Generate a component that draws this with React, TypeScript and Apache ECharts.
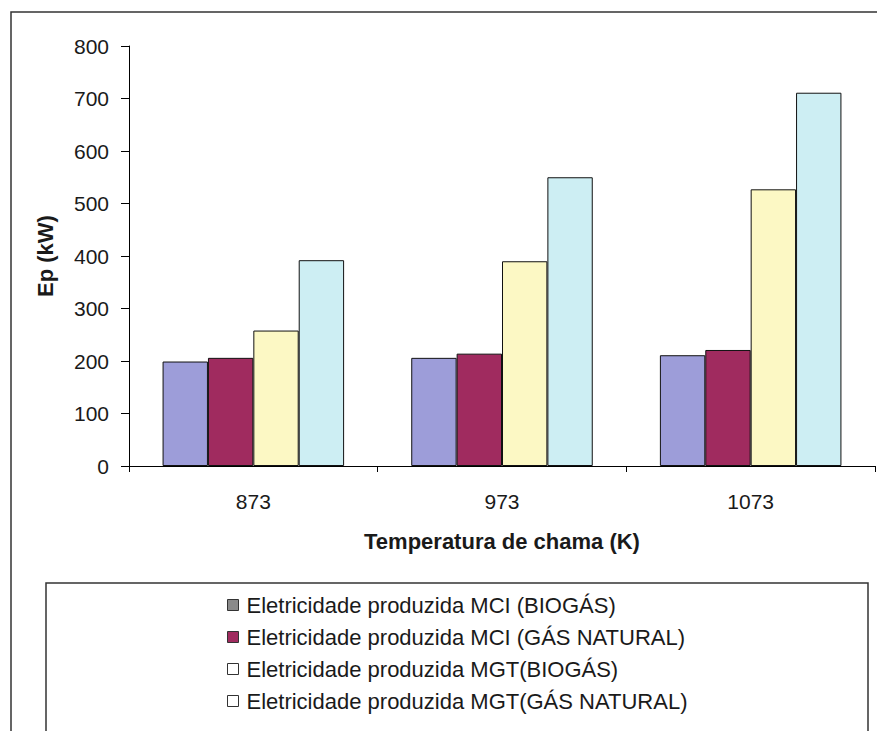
import React, { useEffect, useRef } from "react";
import * as echarts from "echarts";

const categories = ["873", "973", "1073"];
const seriesNames = [
  "Eletricidade produzida MCI (BIOGÁS)",
  "Eletricidade produzida MCI (GÁS NATURAL)",
  "Eletricidade produzida MGT(BIOGÁS)",
  "Eletricidade produzida MGT(GÁS NATURAL)",
];
const mciBiogas = [199, 206, 211];
const mciGasNatural = [206, 214, 221];
const mgtBiogas = [258, 390, 527];
const mgtGasNatural = [392, 550, 711];
const yTicks = [0, 100, 200, 300, 400, 500, 600, 700, 800];

const barColors = ["#9d9dd9", "#a02b5f", "#fcf8c4", "#cdeef3"];
const legendColors = ["#8a8a8a", "#a02b5f", "#ffffff", "#ffffff"];

export default function App() {
  const ref = useRef<HTMLDivElement>(null);
  useEffect(() => {
    document.body.style.margin = "0";
    if (!ref.current) return;
    const chart = echarts.init(ref.current, undefined, { renderer: "svg" });
    const font = "'Liberation Sans', Arial, sans-serif";
    const values = [mciBiogas, mciGasNatural, mgtBiogas, mgtGasNatural];
    chart.setOption({
      animation: false,
      backgroundColor: "#ffffff",
      textStyle: { fontFamily: font },
      graphic: [
        {
          type: "rect",
          shape: { x: 11, y: 12, width: 900, height: 760 },
          style: { fill: "none", stroke: "#333", lineWidth: 1.5 },
          silent: true,
          z: -10,
        },
        {
          type: "rect",
          shape: { x: 46, y: 583, width: 822, height: 200 },
          style: { fill: "none", stroke: "#333", lineWidth: 1.5 },
          silent: true,
          z: -10,
        },
      ],
      grid: { left: 129, right: 2, top: 46, bottom: 265, containLabel: false },
      legend: {
        orient: "vertical",
        left: 227,
        top: 593,
        height: 136,
        padding: 0,
        itemWidth: 11,
        itemHeight: 11,
        itemGap: 8,
        icon: "rect",
        selectedMode: false,
        textStyle: {
          fontFamily: font,
          fontSize: 22,
          color: "#1a1a1a",
          lineHeight: 24,
          padding: [0, 0, 0, 3],
        },
        data: seriesNames.map((n, i) => ({
          name: n,
          itemStyle: { color: legendColors[i], borderColor: "#333", borderWidth: 1 },
        })),
      },
      xAxis: {
        type: "category",
        data: categories,
        name: "Temperatura de chama (K)",
        nameLocation: "middle",
        nameGap: 64,
        nameTextStyle: { fontFamily: font, fontSize: 22, fontWeight: "bold", color: "#1a1a1a" },
        axisLine: { lineStyle: { color: "#000", width: 1 } },
        axisTick: { show: true, length: 6, lineStyle: { color: "#000" } },
        axisLabel: { fontFamily: font, fontSize: 21, color: "#1a1a1a", margin: 25 },
        splitLine: { show: false },
      },
      yAxis: {
        type: "value",
        min: yTicks[0],
        max: yTicks[yTicks.length - 1],
        interval: 100,
        name: "Ep (kW)",
        nameLocation: "middle",
        nameGap: 73,
        nameRotate: 90,
        nameTextStyle: { fontFamily: font, fontSize: 22, fontWeight: "bold", color: "#1a1a1a" },
        axisLine: { show: true, lineStyle: { color: "#000", width: 1 } },
        axisTick: { show: true, length: 8, lineStyle: { color: "#000" } },
        axisLabel: { fontFamily: font, fontSize: 21, color: "#1a1a1a", margin: 20 },
        splitLine: { show: false },
      },
      series: seriesNames.map((n, i) => ({
        name: n,
        type: "bar",
        data: values[i],
        barGap: "0%",
        barCategoryGap: "27%",
        itemStyle: { color: barColors[i], borderColor: "#111", borderWidth: 1 },
      })),
    });
    return () => chart.dispose();
  }, []);
  return <div ref={ref} style={{ width: 877, height: 731 }} />;
}
